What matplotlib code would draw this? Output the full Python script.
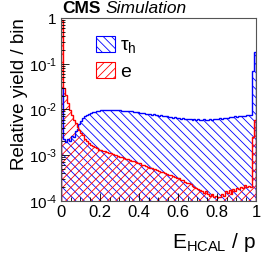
import matplotlib
matplotlib.use("Agg")
import matplotlib.pyplot as plt
import numpy as np
from matplotlib.patches import Patch

plt.rcParams["font.family"] = ["Liberation Sans", "DejaVu Sans"]
plt.rcParams["mathtext.fontset"] = "custom"
plt.rcParams["mathtext.rm"] = "Liberation Sans"
plt.rcParams["mathtext.it"] = "Liberation Sans:italic"
plt.rcParams["mathtext.bf"] = "Liberation Sans:bold"
plt.rcParams["hatch.linewidth"] = 0.6

# E_HCAL / p, 100 bins from 0 to 1
edges = np.linspace(0, 1, 101)

tau_h = [0.03, 0.0022, 0.0019, 0.0023, 0.002, 0.0026, 0.0025, 0.0033, 0.0038, 0.0048,
         0.0056, 0.0064, 0.007, 0.0075, 0.008, 0.0083, 0.0086, 0.0089, 0.0091, 0.0093, 0.0095,
         0.0096, 0.0097, 0.0096, 0.0098, 0.0097, 0.0096, 0.0098, 0.0096, 0.0095, 0.0096,
         0.0094, 0.0093, 0.0094, 0.0091, 0.0092, 0.009, 0.0089, 0.0087, 0.0086, 0.0085,
         0.0084, 0.0082, 0.0081, 0.008, 0.0079, 0.0077, 0.0078, 0.0075, 0.0074, 0.0073,
         0.0074, 0.0072, 0.007, 0.0071, 0.0069, 0.0068, 0.0066, 0.0067, 0.0065, 0.0064,
         0.0063, 0.0064, 0.0062, 0.0063, 0.0061, 0.0062, 0.006, 0.0061, 0.0059, 0.0062,
         0.006, 0.0058, 0.0061, 0.0059, 0.006, 0.0062, 0.0058, 0.0061, 0.0063, 0.0062,
         0.0064, 0.0063, 0.0065, 0.0066, 0.0065, 0.0068, 0.0067, 0.0069, 0.007, 0.0069,
         0.0071, 0.0072, 0.0071, 0.0073, 0.0074, 0.0075, 0.0076, 0.07, 0.18]

electron = [0.9, 0.03, 0.021, 0.014, 0.0095, 0.0075, 0.006, 0.005, 0.0042, 0.0035,
            0.003, 0.0027, 0.0023, 0.002, 0.0018, 0.0017, 0.0016, 0.0015, 0.0014, 0.0013, 0.0013,
            0.00125, 0.0012, 0.00118, 0.00112, 0.0011, 0.00104, 0.001, 0.00098, 0.00095, 0.0009,
            0.00092, 0.00086, 0.00083, 0.0008, 0.00078, 0.00074, 0.00073, 0.0007, 0.00066, 0.00066,
            0.00062, 0.0006, 0.00058, 0.00056, 0.00053, 0.00052, 0.0005, 0.00049, 0.00046, 0.00045,
            0.00043, 0.00042, 0.0004, 0.00039, 0.00037, 0.00036, 0.00035, 0.00033, 0.00032, 0.00031,
            0.00029, 0.00028, 0.00026, 0.00025, 0.00024, 0.00023, 0.00021, 0.0002, 0.00019, 0.00018,
            0.00017, 0.00016, 0.00015, 0.00016, 0.00014, 0.00013, 0.00014, 0.00012, 0.00013, 0.00012,
            0.00012, 0.00014, 0.00013, 0.00016, 0.00015, 0.00017, 0.00014, 0.00018, 0.00016, 0.00019,
            0.00018, 0.0002, 0.00019, 0.00022, 0.0002, 0.00021, 0.0002, 0.0025, 0.006]

yticks = [1e-4, 1e-3, 1e-2, 1e-1, 1]
ytick_labels = ["$10^{\u20104}$", "$10^{\u20103}$", "$10^{\u20102}$", "$10^{\u20101}$", "1"]
xticks = [0, 0.2, 0.4, 0.6, 0.8, 1]
xtick_labels = ["0", "0.2", "0.4", "0.6", "0.8", "1"]

fig = plt.figure(figsize=(2.66, 2.58), dpi=100)
ax = fig.add_axes([0.229, 0.222, 0.733, 0.708])

base = 1e-6
ax.stairs(tau_h, edges, baseline=base, fill=True, facecolor="none",
          edgecolor="blue", hatch="\\\\\\\\", linewidth=0)
ax.stairs(electron, edges, baseline=base, fill=True, facecolor="none",
          edgecolor="red", hatch="////", linewidth=0)
ax.stairs(tau_h, edges, baseline=base, color="blue", linewidth=1)
ax.stairs(electron, edges, baseline=base, color="red", linewidth=1)

ax.set_yscale("log")
ax.set_ylim(1e-4, 1)
ax.set_xlim(0, 1)
ax.set_yticks(yticks, ytick_labels)
ax.set_xticks(xticks, xtick_labels)
ax.xaxis.set_minor_locator(matplotlib.ticker.MultipleLocator(0.05))
ax.tick_params(which="both", direction="in", pad=3)
ax.tick_params(axis="x", labelsize=12)
ax.tick_params(axis="y", labelsize=11)
ax.tick_params(which="major", length=6, width=0.6)
ax.tick_params(which="minor", length=3, width=0.6)
for s in ax.spines.values():
    s.set_linewidth(0.8)
    s.set_color("#555555")

ax.set_ylabel("Relative yield / bin", fontsize=13.5, loc="top")
ax.yaxis.set_label_coords(-0.168, 1.0)
ax.set_xlabel(r"$\mathregular{E_{HCAL}}$ / p", fontsize=15, loc="right", labelpad=8)

handles = [Patch(facecolor="none", edgecolor="blue", hatch="\\\\\\\\", linewidth=0.8),
           Patch(facecolor="none", edgecolor="red", hatch="////", linewidth=0.8)]
ax.legend(handles, [r"$\mathregular{\tau_h}$", "e"], loc="upper left",
          bbox_to_anchor=(0.09, 1.0), frameon=False, fontsize=14,
          handlelength=1.0, handleheight=0.9, handletextpad=0.25, labelspacing=0.35)

fig.text(0.233, 0.948, "CMS", fontsize=12.5, fontweight="bold", ha="left", va="baseline")
fig.text(0.395, 0.948, "Simulation", fontsize=12.5, style="italic", ha="left", va="baseline")

fig.savefig("out.png", dpi=100)
